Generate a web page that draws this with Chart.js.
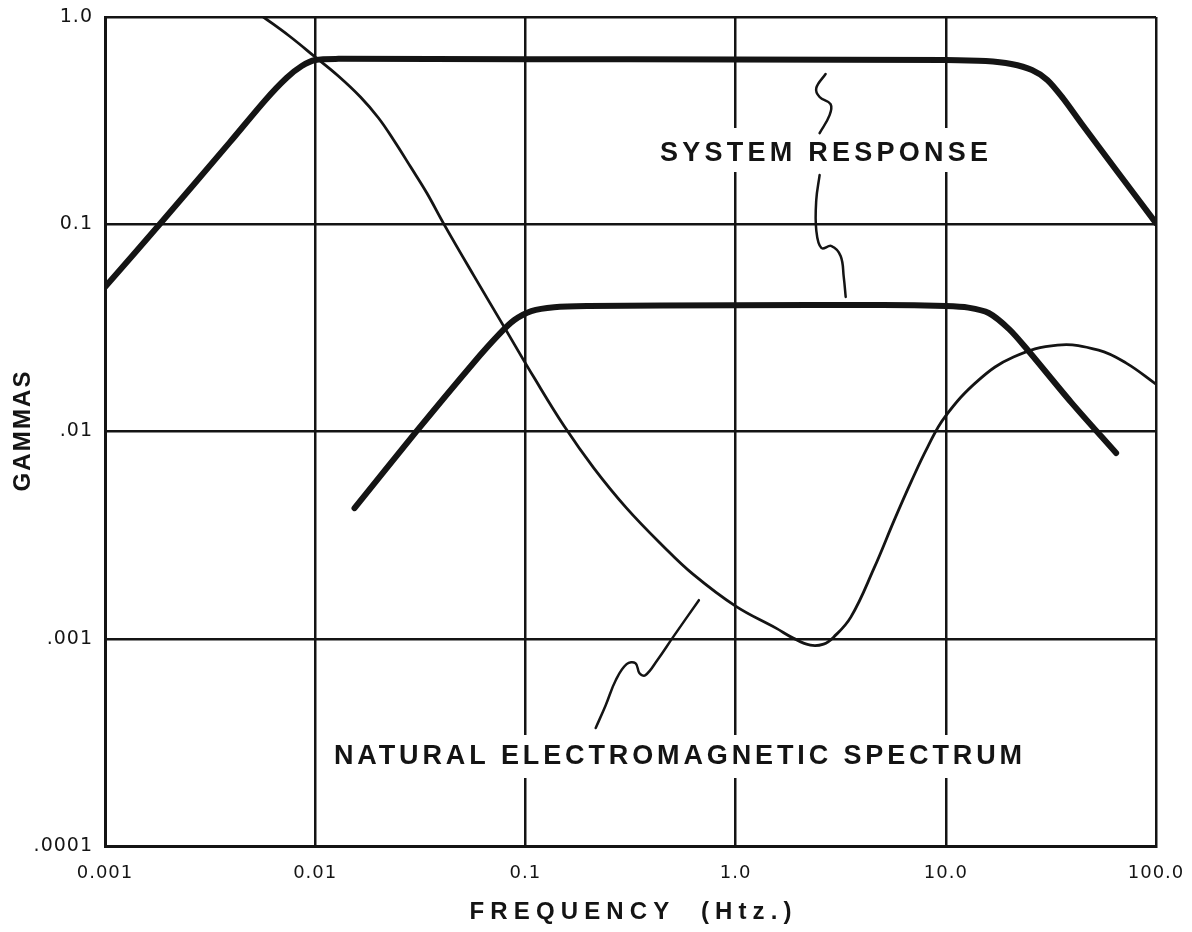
<!DOCTYPE html>
<html>
<head>
<meta charset="utf-8">
<title>Natural electromagnetic spectrum and system response</title>
<script src="https://cdn.jsdelivr.net/npm/chart.js@4.4.1/dist/chart.umd.min.js"></script>
<style>
  html, body { margin: 0; padding: 0; background: #fff; }
  #chart { display: block; }
</style>
</head>
<body>
<canvas id="chart" width="1192" height="932"></canvas>
<script>
// axis ticks
var xTickValues = [0.001, 0.01, 0.1, 1, 10, 100];
var xTickLabels = ["0.001", "0.01", "0.1", "1.0", "10.0", "100.0"];
var yTickValues = [0.0001, 0.001, 0.01, 0.1, 1];
var yTickLabels = [".0001", ".001", ".01", "0.1", "1.0"];

// natural electromagnetic spectrum (thin line)
var naturalFreq  = [0.00567, 0.00753, 0.01, 0.01288, 0.01642, 0.02001, 0.02361, 0.02847, 0.03397, 0.04096,
                    0.05702, 0.07932, 0.1103, 0.1528, 0.2116, 0.3029, 0.4524, 0.6268, 1.0, 1.557,
                    1.879, 2.269, 2.620, 2.926, 3.533, 4.557, 5.686, 6.862, 8.194, 9.890,
                    14.32, 20.99, 34.02, 53.31, 72.2, 100];
var naturalGamma = [1.0, 0.8096, 0.6411, 0.5191, 0.4111, 0.3256, 0.2549, 0.1888, 0.1415, 0.1002,
                    0.0562, 0.0319, 0.0181, 0.01062, 0.00666, 0.00427, 0.002798, 0.00205, 0.001437, 0.001125,
                    0.001007, 0.000931, 0.000942, 0.001018, 0.001271, 0.002191, 0.003737, 0.005762, 0.00841, 0.01174,
                    0.0177, 0.02286, 0.02612, 0.02471, 0.02138, 0.01693];

// system response, upper curve (thick)
var sysUpperFreq  = [0.001, 0.00182, 0.00393, 0.0058, 0.0073, 0.00863, 0.01, 0.0129, 0.1, 1, 10, 15.5, 20.5, 25.7, 30.4, 36.0, 44.0, 64.6, 100];
var sysUpperGamma = [0.0498, 0.1, 0.249, 0.398, 0.508, 0.580, 0.620, 0.628, 0.626, 0.624, 0.620, 0.613, 0.593, 0.555, 0.497, 0.407, 0.308, 0.1827, 0.1013];

// system response, lower curve (thick)
var sysLowerFreq  = [0.01538, 0.0301, 0.057, 0.0751, 0.0886, 0.1067, 0.137, 0.2, 1, 5, 10, 12.8, 16.0, 20.0, 24.3, 39.4, 64.6];
var sysLowerGamma = [0.00427, 0.00993, 0.0216, 0.0295, 0.0345, 0.0381, 0.0398, 0.0403, 0.0407, 0.0408, 0.0403, 0.0396, 0.0373, 0.0312, 0.025, 0.01386, 0.00787];

// hand-drawn leader lines from the labels to the curves
var leaderTopFreq  = [2.68, 2.42, 2.51, 2.83, 2.80, 2.51];
var leaderTopGamma = [0.531, 0.454, 0.411, 0.380, 0.336, 0.275];
var leaderMidFreq  = [2.51, 2.42, 2.42, 2.56, 2.86, 3.16, 3.27, 3.34];
var leaderMidGamma = [0.1727, 0.131, 0.0938, 0.0768, 0.0785, 0.0703, 0.0556, 0.0446];
var leaderLowFreq  = [0.216, 0.241, 0.269, 0.303, 0.334, 0.349, 0.372, 0.424, 0.504, 0.669];
var leaderLowGamma = [0.000371, 0.000478, 0.000631, 0.000754, 0.000762, 0.000682, 0.000667, 0.000788, 0.001018, 0.001535];

var INK = "#141414";

function toPoints(xs, ys) {
    var pts = [];
    for (var i = 0; i < xs.length; i++) {
        pts.push({ x: xs[i], y: ys[i] });
    }
    return pts;
}

function curve(xs, ys, width, tension) {
    return {
        data: toPoints(xs, ys),
        borderColor: INK,
        borderWidth: width,
        pointRadius: 0,
        tension: tension,
        borderCapStyle: "round",
        borderJoinStyle: "round",
        fill: false
    };
}

// draws text stretched to a given width, the way the lettering is spaced
function spacedText(ctx, text, left, right, cy, font) {
    ctx.font = font;
    ctx.letterSpacing = "0px";
    var w = ctx.measureText(text).width;
    var gap = (right - left - w) / (text.length - 1);
    ctx.letterSpacing = gap + "px";
    ctx.textAlign = "left";
    ctx.textBaseline = "middle";
    ctx.fillText(text, left, cy);
}

var tickSpacing = {
    id: "tickSpacing",
    beforeLayout: function(chart) { chart.ctx.letterSpacing = "1px"; },
    beforeDraw: function(chart) { chart.ctx.letterSpacing = "1px"; }
};

var labels = {
    id: "labels",
    beforeDatasetsDraw: function(chart) {
        var ctx = chart.ctx;
        var area = chart.chartArea;
        ctx.save();
        // gaps in the grid behind the labels
        ctx.fillStyle = "#fff";
        ctx.fillRect(654, 128, 340, 44);
        ctx.fillRect(328, 735, 700, 43);
        ctx.fillStyle = INK;
        var big = "bold 27px 'Liberation Sans', sans-serif";
        spacedText(ctx, "SYSTEM RESPONSE", 660, 988, 154, big);
        spacedText(ctx, "NATURAL ELECTROMAGNETIC SPECTRUM", 334, 1022, 757, big);
        ctx.restore();

        // axis titles
        ctx.save();
        ctx.fillStyle = INK;
        var cx = (area.left + area.right) / 2;
        spacedText(ctx, "FREQUENCY  (Htz.)", cx - 161, cx + 161, 912, "bold 24px 'Liberation Sans', sans-serif");
        ctx.translate(23, (area.top + area.bottom) / 2);
        ctx.rotate(-Math.PI / 2);
        spacedText(ctx, "GAMMAS", -60, 60, 0, "bold 24px 'Liberation Sans', sans-serif");
        ctx.restore();
    }
};

window.addEventListener("load", function() {
    var ctx = document.getElementById("chart");
    new Chart(ctx, {
        type: "line",
        data: {
            datasets: [
                curve(leaderTopFreq, leaderTopGamma, 2.5, 0.4),
                curve(leaderMidFreq, leaderMidGamma, 2.5, 0.4),
                curve(leaderLowFreq, leaderLowGamma, 2.5, 0.4),
                curve(naturalFreq, naturalGamma, 2.8, 0.4),
                curve(sysUpperFreq, sysUpperGamma, 6, 0.3),
                curve(sysLowerFreq, sysLowerGamma, 6, 0.3)
            ]
        },
        options: {
            responsive: false,
            animation: false,
            devicePixelRatio: 1,
            layout: { padding: { top: 17, right: 36, left: 0, bottom: 0 } },
            plugins: {
                legend: { display: false },
                tooltip: { enabled: false }
            },
            scales: {
                x: {
                    type: "logarithmic",
                    min: 0.001,
                    max: 100,
                    afterBuildTicks: function(axis) {
                        axis.ticks = xTickValues.map(function(v) { return { value: v }; });
                    },
                    afterFit: function(axis) {
                        axis.height = 86;
                        axis.paddingLeft = 0;
                        axis.paddingRight = 0;
                    },
                    grid: { color: INK, lineWidth: 2.5, drawTicks: false },
                    border: { color: INK, width: 3 },
                    ticks: {
                        autoSkip: false,
                        maxRotation: 0,
                        padding: 17,
                        color: INK,
                        font: { family: "'DejaVu Sans', sans-serif", size: 18 },
                        callback: function(value, index) { return xTickLabels[index]; }
                    }
                },
                y: {
                    type: "logarithmic",
                    min: 0.0001,
                    max: 1,
                    afterBuildTicks: function(axis) {
                        axis.ticks = yTickValues.map(function(v) { return { value: v }; });
                    },
                    afterFit: function(axis) {
                        axis.width = 105;
                        axis.paddingTop = 0;
                        axis.paddingBottom = 0;
                    },
                    grid: { color: INK, lineWidth: 2.5, drawTicks: false },
                    border: { color: INK, width: 3 },
                    ticks: {
                        autoSkip: false,
                        padding: 12,
                        color: INK,
                        font: { family: "'DejaVu Sans', sans-serif", size: 19 },
                        callback: function(value, index) { return yTickLabels[index]; }
                    }
                }
            }
        },
        plugins: [tickSpacing, labels]
    });
});
</script>
</body>
</html>
